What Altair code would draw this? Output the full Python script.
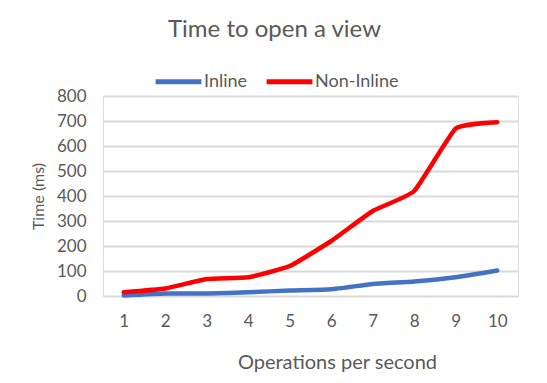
import altair as alt
import pandas as pd

ops = [1, 2, 3, 4, 5, 6, 7, 8, 9, 10]
inline = [2, 10, 10, 15, 22, 27, 48, 58, 75, 102]
non_inline = [15, 30, 68, 75, 120, 220, 340, 420, 670, 695]
series = ["Inline", "Non-Inline"]
colors = ["#4472C4", "#FF0000"]

rows = []
for i, o in enumerate(ops):
    rows.append({"ops": o, "time": inline[i], "series": series[0]})
    rows.append({"ops": o, "time": non_inline[i], "series": series[1]})
df = pd.DataFrame(rows)

FONT = "Lato"
GREY = "#595959"

chart = alt.Chart(df).mark_line(strokeWidth=4.5, interpolate="cardinal", tension=0.6, strokeCap="round").encode(
    x=alt.X("ops:O", scale=alt.Scale(padding=0.5),
            axis=alt.Axis(title="Operations per second", labelAngle=0, domain=False, ticks=False,
                          labelPadding=17, titlePadding=23, labelFontSize=17, titleFontSize=20,
                          labelColor=GREY, titleColor=GREY, labelFont=FONT, titleFont=FONT,
                          titleFontWeight="normal", titleX=234)),
    y=alt.Y("time:Q", scale=alt.Scale(domain=[0, 800]),
            axis=alt.Axis(title="Time (ms)", values=[0, 100, 200, 300, 400, 500, 600, 700, 800],
                          domain=False, ticks=False, labelPadding=17, titlePadding=10,
                          labelFontSize=17, titleFontSize=16, labelColor=GREY, titleColor=GREY,
                          labelFont=FONT, titleFont=FONT, titleFontWeight="normal",
                          gridColor="#d9d9d9", gridWidth=2)),
    color=alt.Color("series:N", scale=alt.Scale(domain=series, range=colors),
                    legend=alt.Legend(title=None, orient="none", legendX=50, legendY=-40,
                                      direction="horizontal", symbolType="stroke",
                                      symbolStrokeWidth=5, symbolSize=2100, labelFontSize=18,
                                      labelFont=FONT, labelColor=GREY, labelOffset=0,
                                      columnPadding=8)),
).properties(
    width=415, height=200,
    title=alt.TitleParams("Time to open a view", fontSize=24, font=FONT, color=GREY,
                          fontWeight="normal", anchor="middle", offset=14, dx=-36),
    autosize=alt.AutoSizeParams(type="none"),
    padding={"left": 103, "top": 96, "right": 29, "bottom": 87},
).configure_view(stroke=None).configure(background="white")

chart.save("out.html", embed_options={"renderer": "svg", "actions": False})
